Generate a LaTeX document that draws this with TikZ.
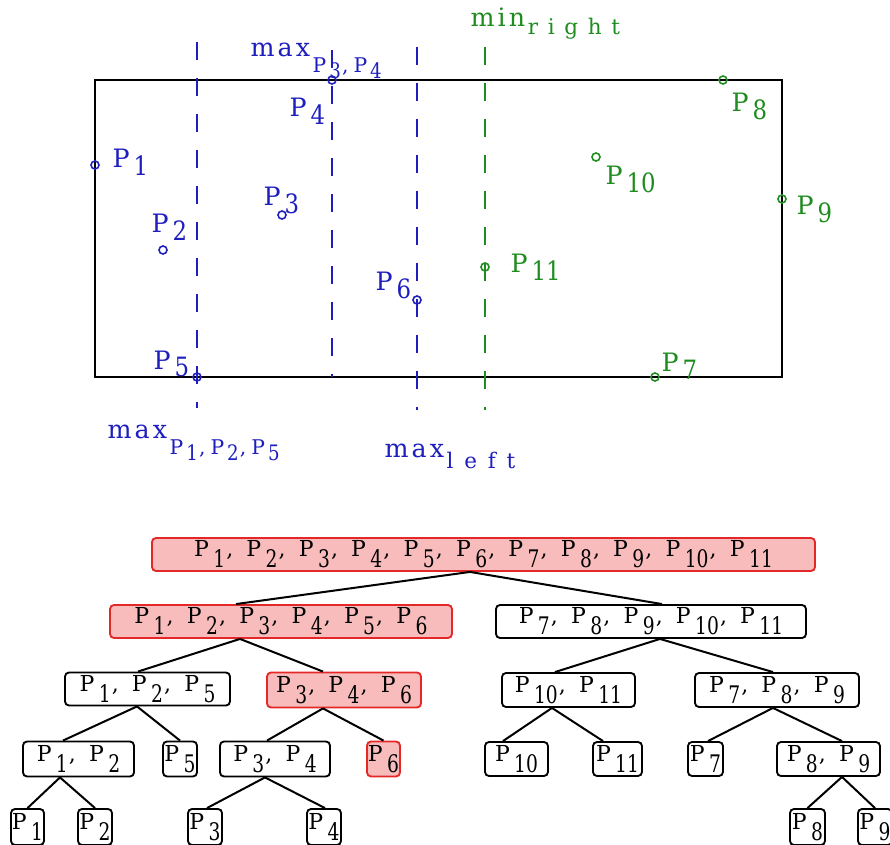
\documentclass[tikz,border=0pt]{standalone}
\usepackage{fontspec}
\setmainfont{DejaVu Serif}
\definecolor{ptblue}{RGB}{30,30,190}
\definecolor{ptgreen}{RGB}{30,140,30}
\definecolor{redfill}{RGB}{248,188,188}
\definecolor{redline}{RGB}{228,40,40}
\newcommand\subsx{0.85}
\newcommand\subsy{1.1}
\newcommand\sublow{0.5em}
\newcommand\subgap{0.2em}
\newcommand\pp[1]{P\kern\subgap\raisebox{-\sublow}{\scalebox{\subsx}[\subsy]{#1}}}
\newcommand\sep{\kern0.05em,\hspace{0.6em}}
\newcommand\lsep{\kern0.05em,\hspace{0.25em}}
\newcommand\lsub[3]{\kern0.1em\raisebox{-#1}{\scalebox{#2}{#3}}}
\tikzset{
  wh/.style 2 args={minimum width=#1*0.75pt, minimum height=#2*0.75pt},
  ox/.style={xshift=#1*0.75pt},
  tbox/.style={draw, rounded corners=3pt, line width=1.4pt, inner sep=0.5pt,
    font={\fontsize{16.5}{18}\selectfont}},
  hbox/.style={tbox, draw=redline, fill=redfill},
  vline/.style={line width=1.6pt, dash pattern=on 13.5pt off 13.5pt},
  pt/.style={circle, draw=#1, line width=1.2pt, inner sep=0pt, minimum size=6pt},
  plab/.style={anchor=base west, text=#1,
    font={\fontsize{19}{21}\selectfont\def\sublow{0.3em}\def\subsx{0.9}\def\subsy{1.05}\def\subgap{0.15em}}},
  edge/.style={line width=1.5pt}
}
\begin{document}
\begin{tikzpicture}[x=0.75pt,y=-0.75pt]
\useasboundingbox (0,0) rectangle (890,845);
% frame
\draw[line width=1.5pt] (95,80) rectangle (782,377);
% dashed lines
\draw[vline, ptblue] (197,42) -- (197,408);
\draw[vline, ptblue] (332,50) -- (332,377);
\draw[vline, ptblue] (417,47) -- (417,410);
\draw[vline, ptgreen] (485,47) -- (485,410);
% line labels
\node[plab=ptblue] (lmax34) at (246,57) {{\addfontfeature{LetterSpace=12}max}\lsub{0.6em}{0.8}{\pp{3}\lsep\pp{4}}};
\node[plab=ptblue] (lmax125) at (103,438) {{\addfontfeature{LetterSpace=12}max}\lsub{0.65em}{0.8}{\pp{1}\lsep\pp{2}\lsep\pp{5}}};
\node[plab=ptblue] (lmaxl) at (380,457) {{\addfontfeature{LetterSpace=12}max}\lsub{0.45em}{0.85}{\addfontfeature{LetterSpace=50}left}};
\node[plab=ptgreen] (lminr) at (466,27) {{\addfontfeature{LetterSpace=12}min}\lsub{0.3em}{0.85}{\addfontfeature{LetterSpace=45}right}};
% points
\node[pt=ptblue] (p1) at (95,165) {};
\node[pt=ptblue] (p2) at (163,250) {};
\node[pt=ptblue] (p3) at (282,215) {};
\node[pt=ptblue] (p4) at (332,80) {};
\node[pt=ptblue] (p5) at (197,377) {};
\node[pt=ptblue] (p6) at (417,300) {};
\node[pt=ptgreen] (p7) at (655,377) {};
\node[pt=ptgreen] (p8) at (723,80) {};
\node[pt=ptgreen] (p9) at (782,199) {};
\node[pt=ptgreen] (p10) at (596,157) {};
\node[pt=ptgreen] (p11) at (485,267) {};
% point labels
\node[plab=ptblue] (lp1) at (108,168) {\pp{1}};
\node[plab=ptblue] (lp2) at (147,233) {\pp{2}};
\node[plab=ptblue] (lp3) at (259,206) {\pp{3}};
\node[plab=ptblue] (lp4) at (285,117) {\pp{4}};
\node[plab=ptblue] (lp5) at (149,369) {\pp{5}};
\node[plab=ptblue] (lp6) at (371,291) {\pp{6}};
\node[plab=ptgreen] (lp7) at (657,372) {\pp{7}};
\node[plab=ptgreen] (lp8) at (727,112) {\pp{8}};
\node[plab=ptgreen] (lp9) at (792,215) {\pp{9}};
\node[plab=ptgreen] (lp10) at (601,185) {\pp{10}};
\node[plab=ptgreen] (lp11) at (506,273) {\pp{11}};
% tree
\node[hbox, wh={663}{33}] (root) at (483.5,554.5) {\pp{1}\sep\pp{2}\sep\pp{3}\sep\pp{4}\sep\pp{5}\sep\pp{6}\sep\pp{7}\sep\pp{8}\sep\pp{9}\sep\pp{10}\sep\pp{11}};
\node[hbox, wh={342}{33}] (l1a) at (281,621.5) {\pp{1}\sep\pp{2}\sep\pp{3}\sep\pp{4}\sep\pp{5}\sep\pp{6}};
\node[tbox, wh={310}{33}] (l1b) at (651,621.5) {\pp{7}\sep\pp{8}\sep\pp{9}\sep\pp{10}\sep\pp{11}};
\node[tbox, wh={165}{33}] (l2a) at (147.5,689) {\pp{1}\sep\pp{2}\sep\pp{5}};
\node[hbox, wh={154}{35}] (l2b) at (344,690) {\pp{3}\sep\pp{4}\sep\pp{6}};
\node[tbox, wh={133}{34}] (l2c) at (568.5,690) {\pp{10}\sep\pp{11}};
\node[tbox, wh={164}{34}] (l2d) at (777,690) {\pp{7}\sep\pp{8}\sep\pp{9}};
\node[tbox, wh={111}{35}] (l3a) at (78.5,759) {\pp{1}\sep\pp{2}};
\node[tbox, wh={34}{35}] (l3b) at (180,759) {\pp{5}};
\node[tbox, wh={110}{35}] (l3c) at (275,759) {\pp{3}\sep\pp{4}};
\node[hbox, wh={33}{35}] (l3d) at (383.5,759) {\pp{6}};
\node[tbox, wh={63}{34}] (l3e) at (516.5,759) {\pp{10}};
\node[tbox, wh={49}{34}] (l3f) at (617.5,759) {\pp{11}};
\node[tbox, wh={35}{34}] (l3g) at (705.5,759) {\pp{7}};
\node[tbox, wh={103}{34}] (l3h) at (828.5,759) {\pp{8}\sep\pp{9}};
\node[tbox, wh={33}{36}] (l4a) at (27.5,827) {\pp{1}};
\node[tbox, wh={34}{36}] (l4b) at (95,827) {\pp{2}};
\node[tbox, wh={34}{36}] (l4c) at (205,827) {\pp{3}};
\node[tbox, wh={34}{36}] (l4d) at (324,827) {\pp{4}};
\node[tbox, wh={35}{36}] (l4e) at (807.5,827) {\pp{8}};
\node[tbox, wh={34}{36}] (l4f) at (875,827) {\pp{9}};
% edges
\draw[edge] ([ox=-13.5]root.south) -- ([ox=-45]l1a.north);
\draw[edge] ([ox=-13.5]root.south) -- ([ox=11]l1b.north);
\draw[edge] ([ox=-41]l1a.south) -- ([ox=-9.5]l2a.north);
\draw[edge] ([ox=-41]l1a.south) -- ([ox=-21]l2b.north);
\draw[edge] ([ox=9]l1b.south) -- ([ox=-13.5]l2c.north);
\draw[edge] ([ox=9]l1b.south) -- ([ox=-4]l2d.north);
\draw[edge] ([ox=-10.5]l2a.south) -- ([ox=-15.5]l3a.north);
\draw[edge] ([ox=-10.5]l2a.south) -- (l3b.north);
\draw[edge] ([ox=-21]l2b.south) -- ([ox=-8]l3c.north);
\draw[edge] ([ox=-21]l2b.south) -- (l3d.north);
\draw[edge] ([ox=-16.5]l2c.south) -- ([ox=-13.5]l3e.north);
\draw[edge] ([ox=-16.5]l2c.south) -- ([ox=-14.5]l3f.north);
\draw[edge] ([ox=-4]l2d.south) -- ([ox=2.5]l3g.north);
\draw[edge] ([ox=-4]l2d.south) -- ([ox=13.5]l3h.north);
\draw[edge] ([ox=-18.5]l3a.south) -- (l4a.north);
\draw[edge] ([ox=-18.5]l3a.south) -- (l4b.north);
\draw[edge] ([ox=-10]l3c.south) -- ([ox=2]l4c.north);
\draw[edge] ([ox=-10]l3c.south) -- ([ox=1]l4d.north);
\draw[edge] ([ox=13.5]l3h.south) -- (l4e.north);
\draw[edge] ([ox=13.5]l3h.south) -- (l4f.north);
\end{tikzpicture}
\end{document}
